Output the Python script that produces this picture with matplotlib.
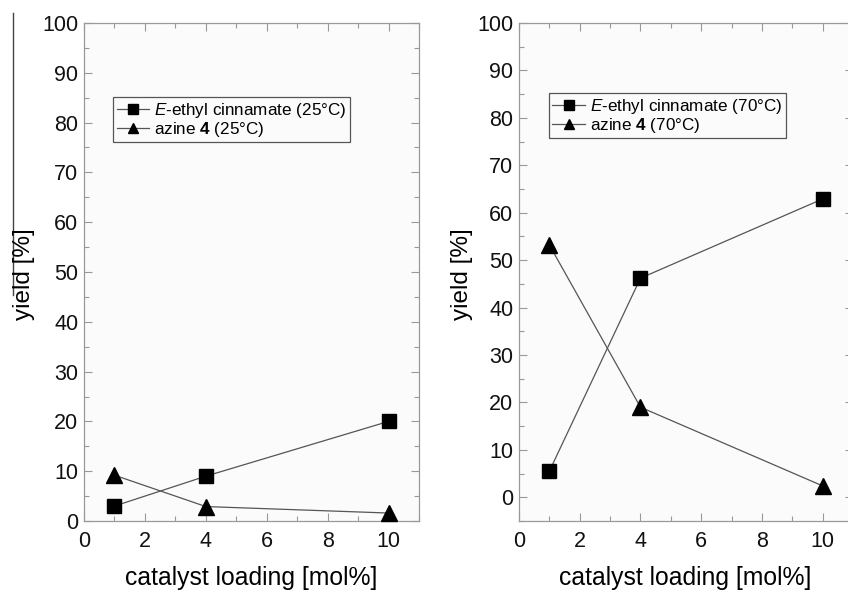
import matplotlib
matplotlib.use("Agg")
import matplotlib.pyplot as plt
from matplotlib.ticker import MultipleLocator
from matplotlib.lines import Line2D

plt.rcParams['font.family'] = ['Liberation Sans', 'DejaVu Sans']
plt.rcParams['mathtext.fontset'] = 'custom'
plt.rcParams['mathtext.rm'] = 'Liberation Sans'
plt.rcParams['mathtext.it'] = 'Liberation Sans:italic'
plt.rcParams['mathtext.bf'] = 'Liberation Sans:bold'

loading = [1, 4, 10]
cinnamate_25 = [3.0, 9.0, 20.0]
azine_25 = [9.2, 2.9, 1.6]
cinnamate_70 = [5.5, 46.2, 62.9]
azine_70 = [53.2, 19.0, 2.4]

labels_25 = [r"$\mathit{E}$-ethyl cinnamate (25°C)", r"azine $\mathbf{4}$ (25°C)"]
labels_70 = [r"$\mathit{E}$-ethyl cinnamate (70°C)", r"azine $\mathbf{4}$ (70°C)"]
xlabel = "catalyst loading [mol%]"
ylabel = "yield [%]"

W, H = 848, 591
fig = plt.figure(figsize=(W / 100, H / 100), dpi=100)

def px_axes(l, t, r, b):
    return fig.add_axes([l / W, 1 - b / H, (r - l) / W, (b - t) / H])

ax1 = px_axes(84, 23, 419, 521)
ax2 = px_axes(519, 23, 853, 521)

line_col = '#555555'
spine_col = '#999999'

def style(ax, ylim):
    ax.set_xlim(0, 11)
    ax.set_ylim(*ylim)
    ax.xaxis.set_major_locator(MultipleLocator(2))
    ax.xaxis.set_minor_locator(MultipleLocator(1))
    ax.yaxis.set_major_locator(MultipleLocator(10))
    ax.yaxis.set_minor_locator(MultipleLocator(5))
    ax.tick_params(which='both', direction='in', top=True, right=True,
                   colors=spine_col, labelcolor='#111111', labelsize=15.5)
    ax.tick_params(which='major', length=6, width=0.8)
    ax.tick_params(which='minor', length=3.5, width=0.8)
    ax.tick_params(axis='x', pad=7)
    ax.tick_params(axis='y', pad=4)
    for s in ax.spines.values():
        s.set_color(spine_col)
        s.set_linewidth(0.9)
    ax.set_facecolor('#fbfbfb')

def draw(ax, cin, azi, labels):
    ax.plot(loading, cin, color=line_col, lw=0.9, marker='s', ms=10,
            mfc='black', mec='black', label=labels[0], clip_on=False, zorder=3)
    ax.plot(loading, azi, color=line_col, lw=0.9, marker='^', ms=11,
            mfc='black', mec='black', label=labels[1], clip_on=False, zorder=3)

style(ax1, (0, 100))
style(ax2, (-5, 100))
draw(ax1, cinnamate_25, azine_25, labels_25)
draw(ax2, cinnamate_70, azine_70, labels_70)

for ax, loc in [(ax1, (0.087, 0.851)), (ax2, (0.09, 0.859))]:
    leg = ax.legend(loc='upper left', bbox_to_anchor=loc, fontsize=12.3,
                    frameon=True, fancybox=False, handlelength=1.9,
                    handletextpad=0.3, borderpad=0.2, labelspacing=0.0,
                    borderaxespad=0, markerscale=0.7)
    leg.get_frame().set_edgecolor('#555555')
    leg.get_frame().set_linewidth(0.9)
    leg.get_frame().set_facecolor('#fbfbfb')
    leg.get_frame().set_alpha(1)

fig.text(251 / W, 1 - 578 / H, xlabel, ha='center', va='center', fontsize=17.8)
fig.text(685 / W, 1 - 578 / H, xlabel, ha='center', va='center', fontsize=17.8)
fig.text(24 / W, 1 - 274 / H, ylabel, ha='center', va='center', fontsize=17.5, rotation=90)
fig.text(462 / W, 1 - 274 / H, ylabel, ha='center', va='center', fontsize=17.5, rotation=90)

fig.add_artist(Line2D([13 / W, 13 / W], [1 - 13 / H, 1 - 295 / H], color='#444444', lw=1.0))

fig.savefig("out.png", dpi=100)
